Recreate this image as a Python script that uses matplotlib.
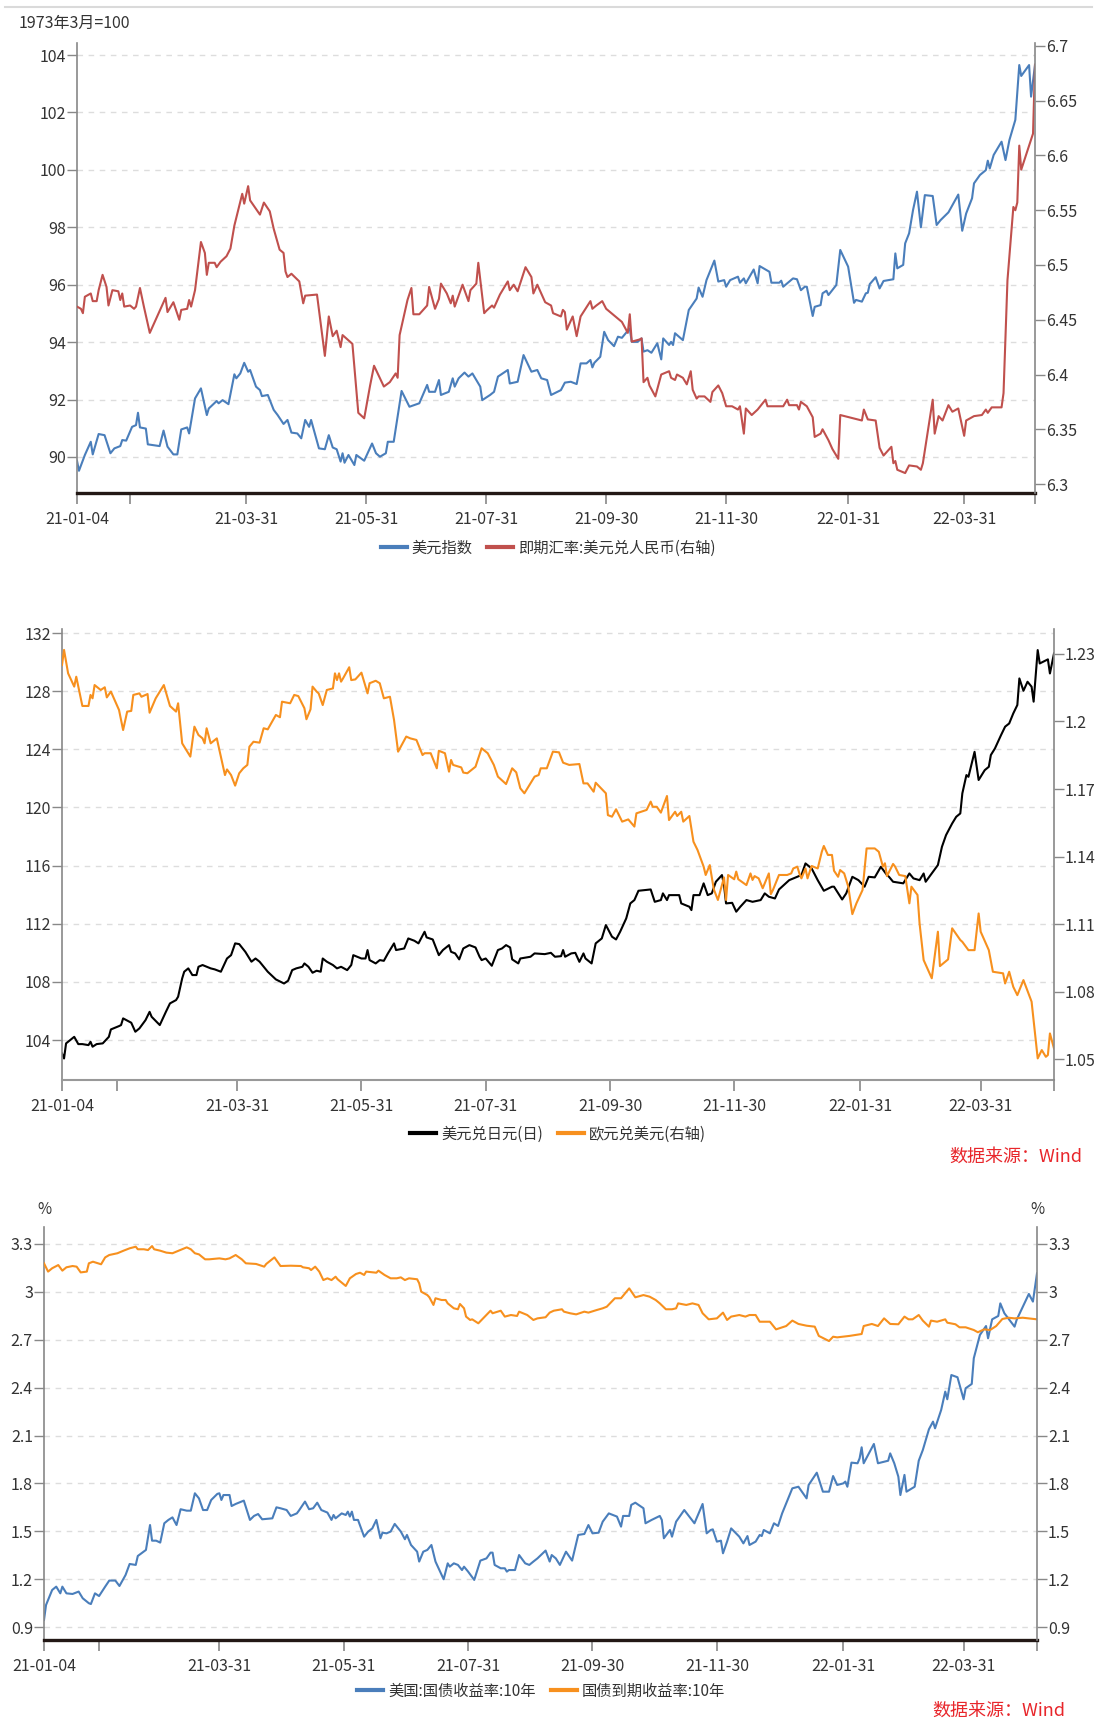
import matplotlib
matplotlib.use("Agg")
import matplotlib.pyplot as plt
from matplotlib.lines import Line2D
import pandas as pd

plt.rcParams['font.family'] = ['Noto Sans CJK SC', 'DejaVu Sans']

# x values are calendar days after 2021-01-04
START = pd.Timestamp('2021-01-04')
END_DAY = 487
TICK_DATES = ['2021-01-04', '2021-01-31', '2021-03-31', '2021-05-31', '2021-07-31',
              '2021-09-30', '2021-11-30', '2022-01-31', '2022-03-31', '2022-05-06']
TICK_LABELS = ['21-01-04', '', '21-03-31', '21-05-31', '21-07-31',
               '21-09-30', '21-11-30', '22-01-31', '22-03-31', '']

# ---- panel 1: 美元指数 / 即期汇率:美元兑人民币
dxy_day = [0, 1, 4, 7, 8, 11, 14, 17, 19, 22, 23, 25, 28, 30, 31, 32, 35, 36, 42, 44, 46, 49, 51, 53,
           56, 57, 60, 63, 66, 67, 71, 72, 74, 77, 80, 81, 83, 85, 87, 88, 91, 93, 94, 97, 100, 102,
           105, 107, 109, 112, 114, 116, 118, 119, 123, 126, 128, 130, 132, 134, 135, 136, 138, 141,
           142, 146, 150, 152, 154, 157, 158, 161, 165, 169, 174, 178, 179, 182, 184, 185, 189, 191,
           192, 194, 197, 199, 201, 205, 206, 210, 212, 214, 219, 220, 224, 227, 231, 234, 236, 239,
           241, 246, 248, 251, 254, 256, 259, 261, 262, 263, 266, 268, 270, 273, 275, 277, 281, 282,
           285, 287, 288, 290, 292, 295, 297, 298, 301, 302, 303, 304, 308, 311, 315, 316, 318, 320,
           324, 326, 329, 330, 332, 336, 337, 339, 340, 344, 346, 347, 352, 353, 357, 358, 359, 364,
           366, 368, 370, 371, 374, 375, 378, 379, 381, 382, 386, 388, 392, 395, 396, 399, 401, 402,
           403, 406, 408, 410, 415, 416, 417, 420, 421, 423, 425, 427, 429, 431, 435, 437, 439, 443,
           448, 450, 452, 455, 456, 459, 462, 463, 464, 466, 470, 472, 474, 477, 479, 480, 484, 485, 487]
dxy = [89.87, 89.52, 90.07, 90.53, 90.09, 90.80, 90.76, 90.13, 90.30, 90.38, 90.59, 90.57, 91.05,
       91.11, 91.54, 91.03, 90.99, 90.44, 90.38, 90.92, 90.36, 90.09, 90.09, 90.96, 91.03, 90.82,
       92.04, 92.39, 91.46, 91.69, 91.95, 91.87, 91.98, 91.84, 92.88, 92.74, 92.91, 93.28, 92.97,
       93.03, 92.45, 92.33, 92.12, 92.16, 91.64, 91.46, 91.15, 91.29, 90.85, 90.82, 90.65, 91.29,
       91.05, 91.29, 90.30, 90.27, 90.76, 90.33, 90.27, 89.84, 90.13, 89.80, 90.07, 89.72, 90.07,
       89.87, 90.47, 90.13, 90.01, 90.13, 90.53, 90.53, 92.30, 91.75, 91.87, 92.51, 92.27, 92.27,
       92.68, 92.16, 92.27, 92.74, 92.45, 92.74, 92.94, 92.80, 92.91, 92.45, 91.98, 92.16, 92.27,
       92.80, 93.03, 92.56, 92.62, 93.55, 92.97, 93.03, 92.74, 92.68, 92.16, 92.33, 92.59, 92.62,
       92.54, 93.26, 93.26, 93.38, 93.12, 93.28, 93.49, 94.36, 94.07, 93.86, 94.19, 94.15, 94.48,
       94.01, 94.01, 94.13, 93.67, 93.72, 93.63, 93.96, 93.40, 94.13, 93.90, 94.01, 93.90, 94.31,
       94.07, 95.12, 95.52, 95.90, 95.58, 96.16, 96.84, 96.11, 96.16, 95.93, 96.16, 96.28, 96.07,
       96.22, 96.05, 96.53, 96.05, 96.65, 96.45, 96.07, 96.07, 96.14, 95.93, 96.22, 96.19, 95.81,
       95.93, 95.93, 94.91, 95.23, 95.29, 95.70, 95.79, 95.64, 95.99, 97.21, 96.63, 95.37, 95.47,
       95.41, 95.70, 95.72, 96.02, 96.26, 95.87, 96.13, 96.19, 97.09, 96.57, 96.69, 97.44, 97.79,
       98.60, 99.24, 98.00, 99.12, 99.09, 98.08, 98.25, 98.52, 99.14, 97.88, 98.48, 99.01, 99.53,
       99.82, 99.99, 100.32, 100.05, 100.52, 100.98, 100.34, 101.04, 101.74, 103.65, 103.27,
       103.65, 102.55, 103.65]

cny_day = [0, 2, 3, 4, 6, 7, 8, 10, 11, 13, 15, 16, 18, 21, 22, 23, 24, 27, 29, 30, 32, 34, 37, 41,
           45, 46, 49, 52, 53, 56, 57, 58, 60, 63, 65, 66, 67, 70, 71, 73, 76, 78, 80, 84, 85, 87, 88,
           93, 95, 98, 100, 103, 105, 106, 107, 109, 113, 115, 116, 122, 124, 126, 128, 130, 132,
           134, 135, 140, 143, 146, 149, 151, 156, 159, 162, 163, 164, 168, 170, 171, 174, 178, 179,
           182, 184, 185, 188, 190, 191, 192, 196, 199, 200, 203, 204, 207, 208, 211, 212, 215, 219,
           220, 222, 224, 228, 231, 232, 234, 238, 241, 242, 246, 247, 248, 249, 252, 254, 256, 261,
           262, 264, 267, 269, 277, 280, 281, 282, 286, 287, 288, 290, 291, 294, 297, 301, 302, 304,
           305, 308, 310, 312, 313, 315, 316, 319, 322, 323, 326, 328, 330, 333, 336, 337, 339, 340,
           343, 346, 350, 351, 359, 361, 362, 366, 367, 368, 371, 374, 375, 378, 379, 382, 384, 387,
           388, 399, 400, 402, 406, 408, 410, 414, 415, 416, 417, 421, 423, 427, 429, 430, 435, 436,
           438, 440, 443, 445, 448, 451, 452, 456, 460, 462, 463, 465, 470, 471, 473, 476, 477, 478,
           479, 480, 486, 487]
cny = [6.462, 6.460, 6.456, 6.471, 6.473, 6.474, 6.467, 6.467, 6.477, 6.491, 6.480, 6.463, 6.477,
       6.476, 6.468, 6.474, 6.462, 6.463, 6.460, 6.462, 6.479, 6.462, 6.438, 6.454, 6.470, 6.457,
       6.466, 6.450, 6.459, 6.460, 6.468, 6.462, 6.477, 6.521, 6.511, 6.491, 6.502, 6.502, 6.498,
       6.503, 6.508, 6.515, 6.536, 6.565, 6.556, 6.572, 6.559, 6.546, 6.557, 6.549, 6.533, 6.514,
       6.511, 6.494, 6.489, 6.492, 6.485, 6.465, 6.472, 6.473, 6.445, 6.417, 6.453, 6.435, 6.440,
       6.425, 6.436, 6.428, 6.365, 6.360, 6.390, 6.408, 6.389, 6.393, 6.401, 6.397, 6.436, 6.468,
       6.479, 6.455, 6.455, 6.463, 6.480, 6.460, 6.469, 6.483, 6.474, 6.465, 6.472, 6.462, 6.482,
       6.467, 6.477, 6.483, 6.502, 6.456, 6.458, 6.463, 6.461, 6.473, 6.485, 6.477, 6.482, 6.476,
       6.498, 6.489, 6.474, 6.482, 6.466, 6.463, 6.456, 6.453, 6.459, 6.457, 6.441, 6.453, 6.435,
       6.453, 6.467, 6.460, 6.463, 6.467, 6.460, 6.448, 6.438, 6.455, 6.430, 6.432, 6.433, 6.393,
       6.397, 6.390, 6.380, 6.400, 6.403, 6.397, 6.395, 6.400, 6.397, 6.391, 6.403, 6.386, 6.378,
       6.380, 6.380, 6.375, 6.384, 6.390, 6.383, 6.371, 6.371, 6.368, 6.371, 6.346, 6.369, 6.363,
       6.368, 6.377, 6.371, 6.371, 6.377, 6.372, 6.372, 6.368, 6.375, 6.371, 6.361, 6.343, 6.346,
       6.350, 6.340, 6.332, 6.323, 6.363, 6.358, 6.368, 6.359, 6.358, 6.333, 6.326, 6.334, 6.319,
       6.321, 6.313, 6.310, 6.317, 6.316, 6.313, 6.319, 6.377, 6.346, 6.362, 6.358, 6.372, 6.366,
       6.369, 6.344, 6.358, 6.362, 6.363, 6.368, 6.365, 6.370, 6.370, 6.383, 6.486, 6.553, 6.550,
       6.557, 6.609, 6.587, 6.620, 6.683]

# ---- panel 2: 美元兑日元 / 欧元兑美元
jpy_day = [0, 1, 2, 5, 6, 8, 10, 13, 14, 15, 17, 20, 23, 24, 28, 29, 30, 33, 34, 36, 38, 41, 43, 44,
           48, 51, 53, 56, 57, 59, 60, 62, 64, 66, 67, 69, 73, 75, 78, 81, 83, 85, 87, 90, 93, 95, 97,
           101, 105, 109, 111, 113, 115, 118, 119, 121, 123, 125, 127, 128, 130, 133, 135, 137, 140,
           142, 143, 147, 149, 150, 151, 154, 156, 158, 160, 163, 164, 168, 170, 173, 175, 178, 179,
           182, 185, 187, 190, 191, 193, 195, 197, 200, 203, 205, 206, 208, 211, 214, 216, 218, 220,
           221, 224, 225, 230, 232, 237, 240, 242, 245, 246, 247, 250, 252, 254, 256, 257, 260, 262,
           265, 267, 270, 272, 274, 277, 279, 281, 283, 289, 291, 294, 295, 297, 298, 303, 304, 308,
           309, 310, 313, 315, 317, 319, 321, 324, 325, 326, 329, 331, 333, 336, 339, 343, 345, 347,
           350, 352, 357, 363, 365, 368, 371, 374, 378, 379, 383, 385, 388, 391, 394, 396, 399, 402,
           405, 406, 408, 413, 416, 418, 421, 423, 424, 427, 430, 432, 434, 437, 439, 441, 442, 444,
           445, 448, 450, 453, 455, 456, 458, 461, 463, 465, 467, 469, 470, 472, 474, 476, 477, 479,
           480, 484, 485, 487]
jpy = [103.08, 102.73, 103.77, 104.11, 104.22, 103.72, 103.72, 103.65, 103.88, 103.54, 103.72,
       103.77, 104.22, 104.73, 104.96, 105.03, 105.49, 105.26, 105.19, 104.57, 104.80, 105.37,
       105.94, 105.60, 105.03, 105.94, 106.52, 106.75, 106.98, 108.24, 108.70, 108.93, 108.47,
       108.47, 109.04, 109.16, 108.93, 108.86, 108.70, 109.61, 109.84, 110.65, 110.60, 110.07,
       109.39, 109.61, 109.39, 108.70, 108.17, 107.89, 108.08, 108.81, 108.93, 109.04, 109.27,
       109.04, 108.63, 108.77, 108.70, 109.61, 109.39, 109.16, 108.93, 109.04, 108.81, 109.16,
       109.84, 109.61, 109.61, 110.19, 109.50, 109.27, 109.50, 109.45, 109.96, 110.65, 110.19,
       110.30, 110.99, 110.83, 110.65, 111.45, 111.06, 110.92, 109.84, 110.19, 110.53, 110.07,
       109.96, 109.55, 110.30, 110.53, 110.37, 109.73, 109.50, 109.61, 109.11, 110.19, 110.30,
       110.53, 110.37, 109.55, 109.27, 109.61, 109.73, 109.96, 109.91, 110.00, 109.73, 109.77,
       110.19, 109.73, 109.96, 110.00, 109.38, 109.96, 109.61, 109.27, 110.65, 110.99, 111.91,
       111.11, 110.92, 111.45, 112.37, 113.40, 113.63, 114.27, 114.36, 113.51, 113.63, 114.09,
       113.63, 113.97, 113.97, 113.40, 113.17, 112.94, 113.97, 113.97, 114.78, 113.97, 114.09,
       114.89, 115.35, 114.66, 113.40, 113.44, 112.83, 113.17, 113.63, 113.51, 113.63, 114.09,
       113.86, 113.74, 114.36, 115.00, 115.35, 116.15, 115.81, 115.00, 114.27, 114.55, 114.55,
       113.67, 114.09, 115.23, 115.00, 114.55, 115.23, 115.19, 115.92, 115.35, 115.23, 114.89,
       114.78, 115.46, 115.12, 115.00, 115.46, 114.89, 115.46, 116.04, 117.30, 118.10, 118.90,
       119.36, 119.59, 120.97, 122.23, 122.11, 123.83, 121.89, 122.57, 122.80, 123.61, 124.06,
       124.98, 125.56, 125.78, 126.47, 127.05, 128.88, 128.03, 128.65, 128.31, 127.28, 130.83,
       129.91, 130.19, 129.22, 130.60]

eur_day = [0, 1, 3, 6, 7, 10, 13, 14, 15, 16, 19, 21, 22, 24, 28, 30, 32, 34, 35, 38, 39, 42, 43,
           46, 50, 53, 56, 57, 59, 63, 65, 67, 69, 70, 71, 73, 76, 78, 80, 81, 83, 85, 87, 89, 91, 92,
           94, 97, 99, 101, 105, 107, 108, 112, 114, 116, 119, 120, 122, 123, 125, 126, 128, 130, 133,
           134, 135, 136, 137, 138, 141, 142, 144, 147, 150, 151, 154, 156, 158, 161, 163, 165, 169,
           171, 174, 177, 178, 181, 184, 185, 188, 190, 191, 192, 196, 197, 199, 203, 206, 209, 212,
           214, 218, 221, 223, 225, 227, 232, 234, 235, 238, 241, 244, 246, 249, 254, 256, 258, 261,
           262, 267, 268, 270, 272, 275, 278, 281, 282, 287, 289, 290, 292, 294, 297, 298, 301, 302,
           304, 305, 308, 310, 312, 315, 316, 318, 320, 322, 325, 326, 327, 330, 331, 332, 336, 338,
           339, 340, 342, 344, 347, 348, 349, 352, 356, 358, 359, 361, 362, 363, 365, 366, 368, 371,
           373, 374, 376, 378, 379, 381, 382, 384, 386, 388, 390, 393, 395, 399, 401, 403, 404, 405,
           408, 409, 411, 414, 416, 417, 420, 421, 423, 427, 430, 431, 435, 437, 441, 442, 445, 448,
           450, 451, 455, 457, 462, 463, 465, 467, 469, 472, 476, 479, 481, 483, 484, 485, 487]
eur = [1.2251, 1.2318, 1.2214, 1.2155, 1.2199, 1.2069, 1.2069, 1.2118, 1.2103, 1.2162, 1.2140,
       1.2152, 1.2107, 1.2133, 1.2051, 1.1962, 1.2044, 1.2047, 1.2118, 1.2125, 1.2110, 1.2122,
       1.2039, 1.2103, 1.2162, 1.2069, 1.2044, 1.2081, 1.1903, 1.1844, 1.1977, 1.1940, 1.1925,
       1.1903, 1.1970, 1.1903, 1.1925, 1.1844, 1.1762, 1.1787, 1.1762, 1.1715, 1.1770, 1.1792,
       1.1807, 1.1888, 1.1910, 1.1906, 1.1970, 1.1965, 1.2029, 1.2019, 1.2088, 1.2081, 1.2118,
       1.2113, 1.2059, 1.2010, 1.2054, 1.2155, 1.2133, 1.2125, 1.2073, 1.2140, 1.2147, 1.2214,
       1.2184, 1.2214, 1.2177, 1.2192, 1.2241, 1.2184, 1.2187, 1.2217, 1.2125, 1.2170, 1.2181,
       1.2170, 1.2103, 1.2110, 1.2007, 1.1866, 1.1933, 1.1925, 1.1918, 1.1851, 1.1859, 1.1859,
       1.1792, 1.1870, 1.1859, 1.1777, 1.1829, 1.1807, 1.1796, 1.1773, 1.1770, 1.1799, 1.1881,
       1.1859, 1.1807, 1.1755, 1.1722, 1.1792, 1.1774, 1.1703, 1.1681, 1.1755, 1.1762, 1.1792,
       1.1792, 1.1866, 1.1863, 1.1817, 1.1807, 1.1811, 1.1725, 1.1725, 1.1688, 1.1728, 1.1681,
       1.1584, 1.1577, 1.1610, 1.1555, 1.1565, 1.1533, 1.1592, 1.1607, 1.1644, 1.1621, 1.1621,
       1.1595, 1.1669, 1.1562, 1.1599, 1.1580, 1.1599, 1.1555, 1.1580, 1.1466, 1.1429, 1.1355,
       1.1318, 1.1362, 1.1254, 1.1207, 1.1307, 1.1207, 1.1318, 1.1299, 1.1333, 1.1299, 1.1273,
       1.1325, 1.1296, 1.1313, 1.1303, 1.1259, 1.1325, 1.1233, 1.1251, 1.1318, 1.1318, 1.1325,
       1.1347, 1.1355, 1.1325, 1.1303, 1.1347, 1.1303, 1.1358, 1.1347, 1.1421, 1.1447, 1.1407,
       1.1407, 1.1337, 1.1310, 1.1340, 1.1325, 1.1266, 1.1144, 1.1192, 1.1251, 1.1436, 1.1436,
       1.1421, 1.1355, 1.1370, 1.1313, 1.1367, 1.1355, 1.1318, 1.1313, 1.1192, 1.1266, 1.1229,
       1.1103, 1.0940, 1.0859, 1.1066, 1.0913, 1.0943, 1.1081, 1.1029, 1.1021, 1.0984, 1.0984,
       1.1147, 1.1066, 1.0984, 1.0888, 1.0881, 1.0836, 1.0888, 1.0821, 1.0784, 1.0851, 1.0755,
       1.0503, 1.0540, 1.0510, 1.0518, 1.0614, 1.0547]

# ---- panel 3: 美国:国债收益率:10年 / 国债到期收益率:10年
ust_day = [0, 1, 4, 6, 8, 9, 11, 14, 17, 19, 22, 23, 25, 27, 30, 32, 35, 37, 40, 42, 45, 46, 50,
           52, 53, 55, 57, 59, 61, 63, 65, 67, 70, 72, 74, 76, 78, 80, 82, 85, 86, 87, 88, 91, 92,
           94, 98, 101, 103, 105, 107, 112, 114, 116, 119, 121, 124, 125, 128, 130, 132, 134, 136,
           139, 141, 142, 143, 146, 148, 149, 150, 151, 152, 154, 157, 159, 161, 163, 165, 166, 168,
           170, 172, 175, 177, 178, 180, 183, 184, 186, 188, 190, 192, 196, 198, 199, 201, 203, 205,
           206, 208, 211, 214, 217, 219, 220, 221, 224, 226, 227, 228, 231, 233, 236, 238, 240, 242,
           246, 248, 249, 251, 253, 256, 259, 262, 265, 267, 269, 272, 274, 277, 281, 283, 284, 287,
           288, 290, 294, 295, 298, 302, 303, 304, 307, 308, 310, 314, 319, 323, 325, 327, 328, 330,
           332, 333, 335, 337, 341, 343, 345, 346, 349, 351, 352, 353, 356, 358, 360, 362, 365, 367,
           370, 374, 375, 379, 382, 385, 387, 389, 392, 393, 394, 396, 399, 400, 401, 402, 407, 409,
           414, 415, 417, 419, 420, 422, 423, 427, 429, 431, 434, 436, 437, 440, 442, 443, 445, 448,
           451, 452, 455, 456, 459, 462, 463, 465, 468, 469, 471, 476, 477, 483, 485, 487]
ust = [0.944, 1.038, 1.132, 1.153, 1.111, 1.153, 1.111, 1.107, 1.122, 1.080, 1.049, 1.044, 1.111,
       1.094, 1.153, 1.191, 1.191, 1.157, 1.226, 1.295, 1.289, 1.345, 1.383, 1.539, 1.441, 1.441,
       1.429, 1.550, 1.571, 1.587, 1.539, 1.638, 1.629, 1.629, 1.738, 1.706, 1.633, 1.633, 1.696,
       1.734, 1.738, 1.696, 1.727, 1.727, 1.658, 1.671, 1.692, 1.571, 1.596, 1.608, 1.575, 1.581,
       1.650, 1.644, 1.633, 1.596, 1.612, 1.629, 1.686, 1.638, 1.644, 1.679, 1.633, 1.617, 1.571,
       1.602, 1.581, 1.612, 1.602, 1.623, 1.592, 1.623, 1.571, 1.571, 1.466, 1.498, 1.518, 1.571,
       1.456, 1.491, 1.487, 1.498, 1.546, 1.498, 1.450, 1.477, 1.414, 1.372, 1.310, 1.372, 1.383,
       1.414, 1.310, 1.199, 1.299, 1.278, 1.299, 1.289, 1.257, 1.278, 1.247, 1.195, 1.316, 1.330,
       1.366, 1.366, 1.289, 1.268, 1.268, 1.247, 1.257, 1.257, 1.351, 1.299, 1.289, 1.310, 1.330,
       1.379, 1.310, 1.351, 1.330, 1.289, 1.372, 1.316, 1.477, 1.483, 1.539, 1.487, 1.491, 1.560,
       1.612, 1.592, 1.529, 1.596, 1.596, 1.665, 1.679, 1.644, 1.550, 1.571, 1.596, 1.571, 1.456,
       1.508, 1.466, 1.560, 1.633, 1.550, 1.671, 1.487, 1.508, 1.512, 1.435, 1.441, 1.362, 1.435,
       1.518, 1.466, 1.424, 1.470, 1.414, 1.435, 1.477, 1.470, 1.508, 1.487, 1.550, 1.533, 1.612,
       1.706, 1.769, 1.779, 1.706, 1.790, 1.867, 1.748, 1.748, 1.846, 1.790, 1.800, 1.811, 1.779,
       1.930, 1.926, 1.957, 2.026, 1.926, 2.047, 1.926, 1.942, 1.988, 1.926, 1.842, 1.727, 1.853,
       1.748, 1.779, 1.942, 2.009, 2.139, 2.187, 2.145, 2.260, 2.375, 2.327, 2.479, 2.465, 2.327,
       2.396, 2.423, 2.584, 2.730, 2.786, 2.709, 2.828, 2.849, 2.928, 2.866, 2.782, 2.824, 2.987,
       2.939, 3.116]

cgb_day = [0, 2, 4, 7, 9, 11, 14, 16, 18, 21, 22, 24, 28, 30, 32, 36, 39, 42, 45, 46, 49, 51, 53,
           54, 57, 60, 63, 66, 70, 72, 74, 76, 79, 81, 86, 89, 91, 94, 97, 99, 104, 108, 109, 113,
           116, 121, 126, 127, 130, 131, 133, 135, 137, 139, 141, 143, 144, 148, 150, 153, 155, 157,
           158, 163, 164, 167, 170, 173, 175, 177, 179, 183, 184, 185, 188, 189, 191, 192, 195, 197,
           198, 201, 203, 204, 206, 207, 209, 210, 213, 219, 220, 224, 226, 229, 232, 233, 237, 240,
           242, 246, 248, 250, 254, 255, 258, 261, 265, 267, 271, 274, 276, 280, 283, 287, 290, 294,
           297, 300, 302, 305, 308, 310, 311, 315, 318, 321, 323, 326, 330, 333, 335, 337, 341, 344,
           346, 349, 351, 356, 359, 364, 367, 370, 374, 378, 380, 385, 387, 389, 395, 401, 402, 406,
           409, 412, 415, 419, 422, 424, 426, 429, 431, 434, 435, 438, 442, 443, 447, 449, 452, 456,
           458, 461, 464, 467, 470, 473, 476, 480, 483, 487]
cgb = [3.179, 3.127, 3.148, 3.168, 3.133, 3.154, 3.162, 3.158, 3.122, 3.127, 3.179, 3.189, 3.173,
       3.216, 3.231, 3.242, 3.258, 3.273, 3.283, 3.267, 3.267, 3.262, 3.287, 3.267, 3.258, 3.246,
       3.242, 3.258, 3.279, 3.267, 3.242, 3.235, 3.204, 3.204, 3.210, 3.204, 3.210, 3.231, 3.204,
       3.179, 3.175, 3.158, 3.175, 3.216, 3.162, 3.164, 3.162, 3.154, 3.148, 3.137, 3.158, 3.127,
       3.074, 3.085, 3.074, 3.095, 3.079, 3.037, 3.085, 3.112, 3.120, 3.106, 3.127, 3.120, 3.133,
       3.106, 3.085, 3.085, 3.091, 3.074, 3.085, 3.079, 3.054, 3.001, 2.980, 2.966, 2.918, 2.960,
       2.949, 2.949, 2.928, 2.897, 2.891, 2.924, 2.897, 2.845, 2.824, 2.828, 2.803, 2.882, 2.866,
       2.882, 2.845, 2.855, 2.849, 2.876, 2.855, 2.824, 2.834, 2.841, 2.870, 2.882, 2.891, 2.876,
       2.866, 2.859, 2.876, 2.870, 2.886, 2.897, 2.907, 2.960, 2.960, 3.022, 2.966, 2.980, 2.970,
       2.949, 2.928, 2.891, 2.891, 2.897, 2.928, 2.918, 2.928, 2.918, 2.866, 2.828, 2.834, 2.870,
       2.824, 2.845, 2.855, 2.845, 2.855, 2.855, 2.813, 2.813, 2.765, 2.786, 2.820, 2.799, 2.788,
       2.782, 2.724, 2.692, 2.719, 2.715, 2.724, 2.736, 2.786, 2.799, 2.786, 2.834, 2.799, 2.797,
       2.845, 2.828, 2.828, 2.855, 2.820, 2.782, 2.820, 2.813, 2.828, 2.807, 2.797, 2.778, 2.778,
       2.761, 2.747, 2.765, 2.761, 2.786, 2.830, 2.838, 2.834, 2.838, 2.834, 2.828]

BLUE = '#4a7ebb'
RED = '#c0504d'
ORANGE = '#f7901e'
W, H = 1097, 1719


def place(x0, x1, ytop, ybot):
    return [x0 / W, 1 - ybot / H, (x1 - x0) / W, (ybot - ytop) / H]


def style_panel(ax, ax2, lticks, rticks, llim, rlim, bottom_color, bottom_lw):
    tick_days = [(pd.Timestamp(d) - START).days for d in TICK_DATES]
    ax.set_xlim(0, END_DAY)
    ax.set_xticks(tick_days)
    ax.set_xticklabels(TICK_LABELS)
    ax.set_ylim(*llim)
    ax.set_yticks(lticks)
    ax.set_yticklabels([f"{v:g}" for v in lticks])
    ax2.set_ylim(*rlim)
    ax2.set_yticks(rticks)
    ax2.set_yticklabels([f"{v:g}" for v in rticks])
    ax.yaxis.grid(True, ls=(0, (4, 4)), color='#dddddd', lw=1)
    ax.set_axisbelow(True)
    for a in (ax, ax2):
        a.spines['top'].set_visible(False)
        a.tick_params(axis='y', length=7, width=1, color='#888888', labelcolor='#333333',
                      labelsize=11.5, pad=1)
    ax.spines['right'].set_visible(False)
    ax2.spines['left'].set_visible(False)
    ax2.spines['bottom'].set_visible(False)
    ax.spines['left'].set_color('#888888')
    ax.spines['left'].set_linewidth(1.2)
    ax2.spines['right'].set_color('#888888')
    ax2.spines['right'].set_linewidth(1.2)
    ax.spines['bottom'].set_color(bottom_color)
    ax.spines['bottom'].set_linewidth(bottom_lw)
    ax.tick_params(axis='x', length=8, width=1.2, color='#888888', labelcolor='#333333',
                   labelsize=11.5, pad=5)


fig = plt.figure(figsize=(W / 100, H / 100), dpi=100)
fig.add_artist(Line2D([5 / W, 1092 / W], [1 - 7 / H, 1 - 7 / H], color='#dadada', lw=1.5))

# panel 1
ax1 = fig.add_axes(place(77, 1035, 43, 493))
ax1b = ax1.twinx()
ax1.plot(dxy_day, dxy, color=BLUE, lw=1.5)
ax1b.plot(cny_day, cny, color=RED, lw=1.5)
style_panel(ax1, ax1b, [90, 92, 94, 96, 98, 100, 102, 104],
            [6.3, 6.35, 6.4, 6.45, 6.5, 6.55, 6.6, 6.65, 6.7],
            (88.746, 104.418), (6.2918, 6.7027), '#231815', 2.4)
fig.text(19 / W, 1 - 23 / H, '1973年3月=100', fontsize=11.5, color='#333333', va='center')
fig.legend([Line2D([], [], color=BLUE, lw=3), Line2D([], [], color=RED, lw=3)],
           ['美元指数', '即期汇率:美元兑人民币(右轴)'], loc='center', ncol=2, frameon=False,
           bbox_to_anchor=(548 / W, 1 - 548 / H), fontsize=11, handlelength=1.7,
           handletextpad=0.3, columnspacing=1.0, labelcolor='#333333')

# panel 2
ax2 = fig.add_axes(place(62, 1054, 629, 1080))
ax2b = ax2.twinx()
ax2.plot(jpy_day, jpy, color='black', lw=1.5)
ax2b.plot(eur_day, eur, color=ORANGE, lw=1.5)
style_panel(ax2, ax2b, [104, 108, 112, 116, 120, 124, 128, 132],
            [1.05, 1.08, 1.11, 1.14, 1.17, 1.2, 1.23],
            (101.25, 132.28), (1.0407, 1.2411), '#999999', 1.5)
fig.legend([Line2D([], [], color='black', lw=3), Line2D([], [], color=ORANGE, lw=3)],
           ['美元兑日元(日)', '欧元兑美元(右轴)'], loc='center', ncol=2, frameon=False,
           bbox_to_anchor=(558 / W, 1 - 1134 / H), fontsize=11, handlelength=1.7,
           handletextpad=0.3, columnspacing=1.0, labelcolor='#333333')
fig.text(1082 / W, 1 - 1157 / H, '数据来源：Wind', fontsize=13, color='#e8262b',
         ha='right', va='center')

# panel 3
ax3 = fig.add_axes(place(44, 1037, 1227, 1640))
ax3b = ax3.twinx()
ax3.plot(ust_day, ust, color=BLUE, lw=1.5)
ax3b.plot(cgb_day, cgb, color=ORANGE, lw=1.5)
y3 = [0.9, 1.2, 1.5, 1.8, 2.1, 2.4, 2.7, 3.0, 3.3]
style_panel(ax3, ax3b, y3, y3, (0.8186, 3.4065), (0.8186, 3.4065), '#231815', 2.4)
fig.text(44 / W, 1 - 1209 / H, '%', fontsize=11, color='#333333', ha='center', va='center')
fig.text(1037 / W, 1 - 1209 / H, '%', fontsize=11, color='#333333', ha='center', va='center')
fig.legend([Line2D([], [], color=BLUE, lw=3), Line2D([], [], color=ORANGE, lw=3)],
           ['美国:国债收益率:10年', '国债到期收益率:10年'], loc='center', ncol=2, frameon=False,
           bbox_to_anchor=(541 / W, 1 - 1691 / H), fontsize=11, handlelength=1.7,
           handletextpad=0.3, columnspacing=1.0, labelcolor='#333333')
fig.text(1065 / W, 1 - 1711 / H, '数据来源：Wind', fontsize=13, color='#e8262b',
         ha='right', va='center')

fig.savefig('out.png', dpi=100)
